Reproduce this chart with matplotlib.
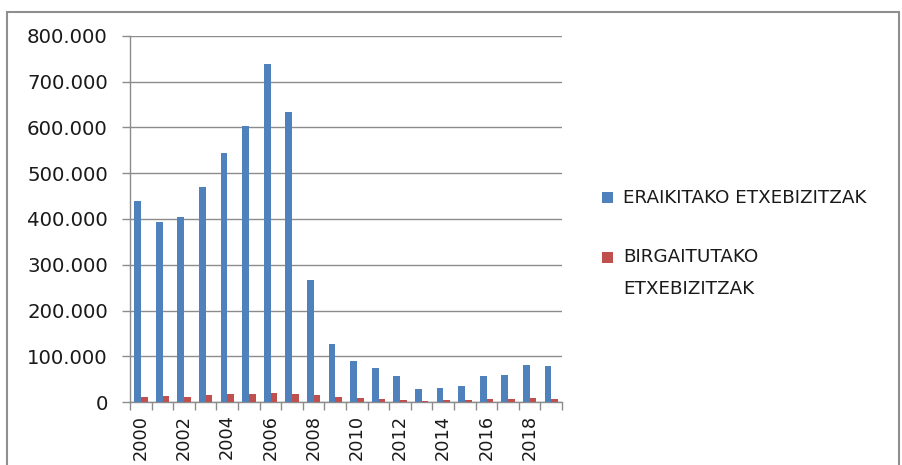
import matplotlib.pyplot as plt
from matplotlib.patches import Rectangle

# --- datuak ---
years = list(range(2000, 2020))
eraikitako = [439000, 393000, 404000, 470000, 545000, 603000, 738000, 634000, 267000, 127000,
              90000, 74000, 56000, 28000, 31000, 34000, 56000, 60000, 80000, 79000]
birgaitutako = [11500, 14000, 11500, 16000, 18000, 18000, 20000, 18000, 16000, 11500,
                9000, 7000, 5000, 2500, 5000, 5000, 7000, 7000, 9000, 7000]
series_names = ['ERAIKITAKO ETXEBIZITZAK', 'BIRGAITUTAKO\nETXEBIZITZAK']
colors = ['#4F81BD', '#C0504D']

plt.rcParams['font.family'] = 'DejaVu Sans'
text_color = '#1a1a1a'
grid_color = '#8c8c8c'

fig = plt.figure(figsize=(9.02, 4.65), dpi=100)

# kanpoko markoa
fig.patches.append(Rectangle((7 / 902, -0.05), 892 / 902, 1.05 - 12 / 465,
                             transform=fig.transFigure, fill=False,
                             edgecolor='#8f8f8f', linewidth=1.5, zorder=0))

ax = fig.add_axes([130 / 902, 63 / 465, 432 / 902, 366 / 465])

x = list(range(len(years)))
w = 0.31
ax.bar([i - 0.15 for i in x], eraikitako, width=w, color=colors[0], zorder=3)
ax.bar([i + 0.16 for i in x], birgaitutako, width=w, color=colors[1], zorder=3)

ax.set_xlim(-0.5, len(years) - 0.5)
ax.set_ylim(0, 800000)
ax.set_yticks(range(0, 800001, 100000))
ax.set_yticklabels(['0'] + [f'{v // 1000}.000' for v in range(100000, 800001, 100000)],
                   fontsize=14.2, color=text_color)
ax.yaxis.grid(True, color=grid_color, linewidth=1.0, zorder=0)
ax.set_axisbelow(True)

# urte-etiketak: bi urtean behin, bertikalean
ax.set_xticks(x[::2])
ax.set_xticklabels([str(y) for y in years[::2]], rotation=90, fontsize=12.8, color=text_color)
ax.tick_params(axis='x', length=0, pad=9)
ax.set_xticks([i - 0.5 for i in range(len(years) + 1)], minor=True)
ax.tick_params(axis='x', which='minor', length=6, color=grid_color, width=1)
ax.tick_params(axis='y', length=6, color=grid_color, width=1, pad=10)

for side in ['top', 'right']:
    ax.spines[side].set_visible(False)
for side in ['left', 'bottom']:
    ax.spines[side].set_color(grid_color)
    ax.spines[side].set_linewidth(1.0)

# legenda
legend_rows = [(198, series_names[0]), (257, series_names[1])]
for (ypix, name), c in zip(legend_rows, colors):
    fig.patches.append(Rectangle((602 / 902, 1 - (ypix + 5.5) / 465), 11 / 902, 11 / 465,
                                 transform=fig.transFigure, facecolor=c, edgecolor='none'))
    fig.text(623 / 902, 1 - (ypix - 9.5) / 465, name, fontsize=13.2, color=text_color,
             va='top', ha='left', linespacing=2.0, transform=fig.transFigure)

fig.savefig('out.png', dpi=100)
